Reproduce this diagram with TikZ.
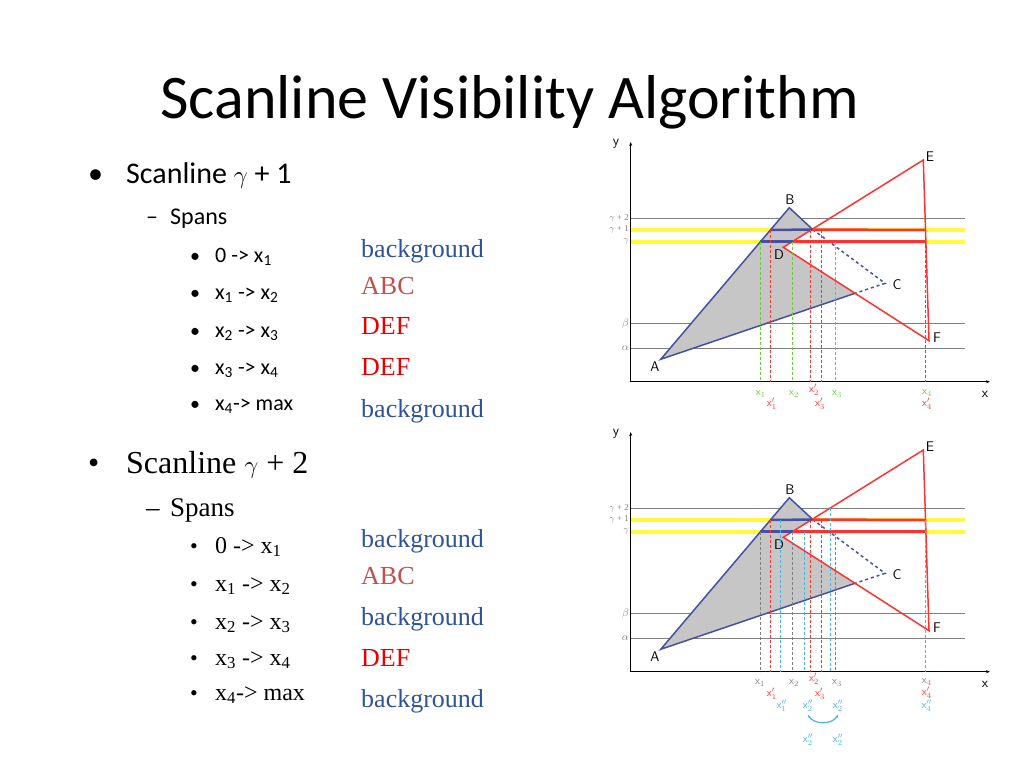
\documentclass[tikz,border=0pt]{standalone}
\usepackage{fontspec}
\setmainfont{Liberation Serif}
\newfontfamily\calibri{Carlito}
\usetikzlibrary{arrows.meta}
\definecolor{txtblue}{RGB}{47,84,150}
\definecolor{txtbrown}{RGB}{192,80,77}
\definecolor{txtred}{RGB}{230,0,0}
\definecolor{edgeblue}{RGB}{70,80,160}
\definecolor{edgered}{RGB}{255,50,50}
\definecolor{scanyellow}{RGB}{255,250,60}
\definecolor{lgreen}{RGB}{110,200,60}
\definecolor{lblue}{RGB}{70,180,230}
\tikzset{gridline/.style={line width=0.8pt, color=gray}}
\tikzset{bedge/.style={line width=1.5pt, color=edgeblue}}
\tikzset{redge/.style={line width=1.5pt, color=edgered}}
\tikzset{vline/.style={line width=0.7pt, dash pattern=on 3pt off 2pt}}
\tikzset{lbl/.style={font=\fontsize{11}{11}\sffamily, inner sep=0pt}}
\tikzset{vtx/.style={font=\fontsize{14}{14}\sffamily, inner sep=0pt}}
\tikzset{txt/.style={anchor=base west, inner sep=0pt}}
\newcommand{\xsub}[2]{x$^{#1}_{#2}$}

\begin{document}
\begin{tikzpicture}[x=1pt, y=-1pt]
    \useasboundingbox (0,0) rectangle (1024,768);
    \node[txt, font=\fontsize{62}{62}\calibri] (title) at (160,118) {Scanline Visibility Algorithm};

    % first scanline
    \node[txt, font=\fontsize{30}{30}\calibri] at (88,183) {\textbullet};
    \node[txt, font=\fontsize{30}{30}\calibri] (b1) at (126,183) {Scanline $\gamma$ + 1};
    \node[txt, font=\fontsize{24}{24}\calibri] at (146,224) {\textendash};
    \node[txt, font=\fontsize{24}{24}\calibri] (s1) at (170,224) {Spans};
    \foreach \y/\t in {262/0 -> x\textsubscript{1}, 299/x\textsubscript{1} -> x\textsubscript{2}, 337/x\textsubscript{2} -> x\textsubscript{3}, 374/x\textsubscript{3} -> x\textsubscript{4}, 410/x\textsubscript{4}-> max} {
        \node[txt, font=\fontsize{20}{20}\calibri] at (190,\y) {\textbullet};
        \node[txt, font=\fontsize{22}{22}\calibri] at (215,\y) {\t};
    }
    \foreach \y/\c/\t in {257/txtblue/background, 294/txtbrown/ABC, 334/txtred/DEF, 375/txtred/DEF, 417/txtblue/background}
        \node[txt, font=\fontsize{26}{26}\selectfont, text=\c] at (361,\y) {\t};

    % second scanline
    \node[txt, font=\fontsize{32}{32}\selectfont] at (88,473) {\textbullet};
    \node[txt, font=\fontsize{32}{32}\selectfont] (b2) at (126,473) {Scanline $\gamma$ + 2};
    \node[txt, font=\fontsize{27}{27}\selectfont] at (146,516) {\textendash};
    \node[txt, font=\fontsize{27}{27}\selectfont] (s2) at (170,516) {Spans};
    \foreach \y/\t in {553/0 -> x\textsubscript{1}, 591/x\textsubscript{1} -> x\textsubscript{2}, 629/x\textsubscript{2} -> x\textsubscript{3}, 665/x\textsubscript{3} -> x\textsubscript{4}, 700/x\textsubscript{4}-> max} {
        \node[txt, font=\fontsize{22}{22}\selectfont] at (190,\y) {\textbullet};
        \node[txt, font=\fontsize{24}{24}\selectfont] at (215,\y) {\t};
    }
    \foreach \y/\c/\t in {547/txtblue/background, 584/txtbrown/ABC, 625/txtblue/background, 666/txtred/DEF, 707/txtblue/background}
        \node[txt, font=\fontsize{26}{26}\selectfont, text=\c] at (361,\y) {\t};

    % the two plots
    \foreach \p/\dy in {u/0, l/290} {
    \begin{scope}[shift={(0,\dy)}]
        \coordinate (O\p) at (630.7,381.7);
        \coordinate (Y\p) at (630.7,142);
        \coordinate (X\p) at (990,381.7);
        \coordinate (A\p) at (660.7,359.3);
        \coordinate (B\p) at (789.3,207.7);
        \coordinate (C\p) at (885,283.3);
        \coordinate (D\p) at (783.3,247.3);
        \coordinate (E\p) at (923.3,160);
        \coordinate (F\p) at (929,340.7);
        \coordinate (P\p) at (812.7,229.5);
        \coordinate (Q\p) at (855,293.3);
        \foreach \yy in {218.3, 323.3, 348.3}
            \draw [gridline] (630.7,\yy) -- (965,\yy);
        \foreach \yy in {230, 241.7}
            \draw [line width=4pt, scanyellow] (630.7,\yy) -- (965,\yy);
        \node[anchor=east, font=\fontsize{9}{9}\selectfont, text=gray, inner sep=1pt] at (630,218.3) {$\gamma$ + 2};
        \node[anchor=east, font=\fontsize{9}{9}\selectfont, text=gray, inner sep=1pt] at (630,229) {$\gamma$ + 1};
        \node[anchor=east, font=\fontsize{9}{9}\selectfont, text=gray, inner sep=1pt] at (630,241.7) {$\gamma$};
        \node[anchor=east, font=\fontsize{11}{11}\selectfont, text=gray, inner sep=1pt] at (630,323.3) {$\beta$};
        \node[anchor=east, font=\fontsize{11}{11}\selectfont, text=gray, inner sep=1pt] at (630,348.3) {$\alpha$};
        \fill [gray!45] (A\p) -- (B\p) -- (P\p) -- (D\p) -- (Q\p) -- cycle;
        \draw [bedge] (Q\p) -- (A\p) -- (B\p) -- (P\p);
        \draw [bedge, dashed] (P\p) -- (C\p) -- (Q\p);
        \draw [redge] (D\p) -- (E\p) -- (F\p) -- cycle;
        \draw [line width=2.5pt, edgeblue] (770,230) -- (P\p);
        \draw [line width=2.5pt, edgered] (P\p) -- (925,230);
        \draw [line width=2.5pt, edgeblue] (760,241.7) -- (793.3,241.7);
        \draw [line width=2.5pt, edgered] (793.3,241.7) -- (925,241.7);
        \draw [line width=1pt, -{Stealth[length=4pt]}] (O\p) -- (Y\p);
        \draw [line width=1pt, -{Stealth[length=4pt]}] (O\p) -- (X\p);
        \node[vtx] at (616,144) {y};
        \node[vtx] at (985,394) {x};
        \node[vtx] at (655,367) {A};
        \node[vtx] at (790,200) {B};
        \node[vtx] at (897,285) {C};
        \node[vtx] at (779,255) {D};
        \node[vtx] at (930,157) {E};
        \node[vtx] at (937,338) {F};
    \end{scope}
    }

    % spans of scanline gamma+1
    \foreach \xx/\yy/\c in {760.7/241.7/lgreen, 770/230/edgered, 792.7/241.7/lgreen, 810.7/230/edgered, 821/230/edgered, 835.7/241.7/lgreen, 925/230/edgered}
        \draw [vline, \c] (\xx,\yy) -- (\xx,381.7);
    \node[lbl, text=lgreen] at (760.7,394) {\xsub{}{1}};
    \node[lbl, text=edgered] at (771.7,404) {\xsub{\prime}{1}};
    \node[lbl, text=lgreen] at (794,394) {\xsub{}{2}};
    \node[lbl, text=edgered] at (814,390) {\xsub{\prime}{2}};
    \node[lbl, text=edgered] at (820,404) {\xsub{\prime}{3}};
    \node[lbl, text=lgreen] at (837,394) {\xsub{}{3}};
    \node[lbl, text=lgreen] at (927,393) {\xsub{}{4}};
    \node[lbl, text=edgered] at (927,404) {\xsub{\prime}{4}};

    % spans of scanline gamma+2
    \foreach \xx/\yy/\c in {760.7/531.7/gray, 770/520/edgered, 780/520/lblue, 792.7/531.7/gray, 804/531.7/lblue, 810.7/520/edgered, 821/520/edgered, 830.7/508.3/lblue, 835.7/531.7/gray, 925/520/lblue}
        \draw [vline, \c] (\xx,\yy) -- (\xx,671.7);
    \node[lbl, text=gray] at (760,683) {\xsub{}{1}};
    \node[lbl, text=edgered] at (771.7,694) {\xsub{\prime}{1}};
    \node[lbl, text=lblue] at (781.7,706) {\xsub{\prime\prime}{1}};
    \node[lbl, text=gray] at (794,683) {\xsub{}{2}};
    \node[lbl, text=edgered] at (814,679) {\xsub{\prime}{2}};
    \node[lbl, text=edgered] at (820,694) {\xsub{\prime}{3}};
    \node[lbl, text=lblue] (xa) at (808,706) {\xsub{\prime\prime}{2}};
    \node[lbl, text=lblue] (xb) at (838,706) {\xsub{\prime\prime}{2}};
    \node[lbl, text=gray] at (837,683) {\xsub{}{3}};
    \node[lbl, text=gray] at (926.7,682) {\xsub{}{4}};
    \node[lbl, text=edgered] at (926.7,693) {\xsub{\prime}{4}};
    \node[lbl, text=lblue] at (926.7,706) {\xsub{\prime\prime}{4}};
    \draw [lblue, line width=1.2pt, {Stealth[length=3pt]}-{Stealth[length=3pt]}] ([yshift=-3pt]xa.south) to[out=-60, in=-120] ([yshift=-3pt]xb.south);
    \node[lbl, text=lblue] at (808,740) {\xsub{\prime\prime}{2}};
    \node[lbl, text=lblue] at (838,740) {\xsub{\prime\prime}{2}};
\end{tikzpicture}
\end{document}
